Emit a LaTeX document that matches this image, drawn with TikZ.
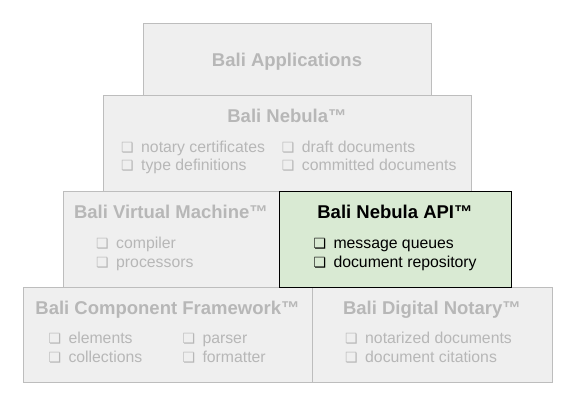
\documentclass[tikz,border=0pt]{standalone}
\usepackage{fontspec}
\setmainfont{Liberation Sans}
\newfontfamily\symfont{DejaVu Sans}
\usepackage{tikz}

\definecolor{layerfill}{HTML}{EFEFEF}
\definecolor{layerline}{HTML}{BDBDBD}
\definecolor{layertext}{HTML}{B7B7B7}
\definecolor{apifill}{HTML}{D9EAD3}
\newcommand{\chk}{\makebox[20pt][l]{\symfont\fontsize{14}{14}\selectfont ❏}}

\begin{document}
\begin{tikzpicture}[x=1pt,y=-1pt,
  layer/.style={draw=layerline,fill=layerfill,line width=0.8pt,anchor=north west,inner sep=0pt},
  title/.style={font=\fontsize{18.5}{22}\selectfont\bfseries,text=layertext,inner sep=0pt,anchor=base},
  items/.style={font=\fontsize{15.8}{18.7}\selectfont,text=layertext,align=left,inner sep=0pt,anchor=base west}]
\useasboundingbox (0,0) rectangle (575,403);
% layers, top to bottom
\node[layer,minimum width=288pt,minimum height=72pt] (apps) at (143,23) {};
\node[layer,minimum width=368pt,minimum height=96pt] (nebula) at (103,95) {};
\node[layer,minimum width=216pt,minimum height=96pt] (vm) at (63,191) {};
\node[layer,minimum width=289pt,minimum height=95pt] (component) at (23,287) {};
\node[layer,minimum width=240pt,minimum height=95pt] (notary) at (312,287) {};
\node[layer,draw=black,fill=apifill,minimum width=232pt,minimum height=96pt] (api) at (279,191) {};

\node[title] (appstitle) at (287,66.5) {Bali Applications};

\node[title] (nebulatitle) at (287,122.3) {Bali Nebula™};
\node[items] (nebulaleft) at (121,171) {\chk notary certificates\\\chk type definitions};
\node[items] (nebularight) at (281.7,171) {\chk draft documents\\\chk committed documents};

\node[title] (vmtitle) at (171,218.3) {Bali Virtual Machine™};
\node[items] (vmlist) at (96,267) {\chk compiler\\\chk processors};

\node[title,text=black] (apititle) at (395,218.3) {Bali Nebula API™};
\node[items,text=black] (apilist) at (313.3,267) {\chk message queues\\\chk document repository};

\node[title] (componenttitle) at (167.5,314.3) {Bali Component Framework™};
\node[items] (componentleft) at (48.3,362) {\chk elements\\\chk collections};
\node[items] (componentright) at (182.3,362) {\chk parser\\\chk formatter};

\node[title] (notarytitle) at (432,314.3) {Bali Digital Notary™};
\node[items] (notarylist) at (345,362) {\chk notarized documents\\\chk document citations};
\end{tikzpicture}
\end{document}
